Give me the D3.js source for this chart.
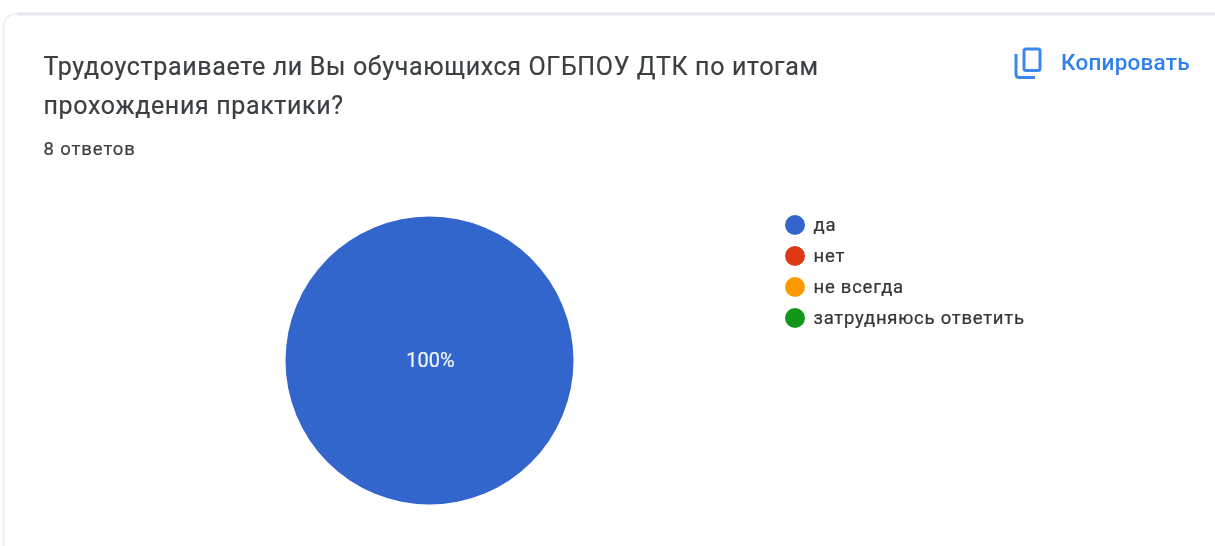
<!DOCTYPE html>
<html><head><meta charset="utf-8">
<script src="https://cdn.jsdelivr.net/npm/d3@7"></script>
<style>html,body{margin:0;padding:0;background:#fff;overflow:hidden}svg{display:block;filter:blur(0.45px)}</style>
</head><body><svg id="c" width="1215" height="546"></svg>
<script>
const titleLines = ["Трудоустраиваете ли Вы обучающихся ОГБПОУ ДТК по итогам","прохождения практики?"];
const subtitle = "8 ответов";
const copyLabel = "Копировать";
const categories = ["да","нет","не всегда","затрудняюсь ответить"];
const values = [8,0,0,0];
const colors = ["#3366cc","#dc3912","#ff9900","#109618"];
const total = d3.sum(values);

const svg = d3.select("#c");
const font = "Roboto, sans-serif";

// card
svg.append("path")
  .attr("d","M3.5,546 V28 Q3.5,14 18,14 H1215")
  .attr("fill","#fff").attr("stroke","#f0eff5").attr("stroke-width",2);
svg.append("path")
  .attr("d","M18,14 H1215")
  .attr("fill","none").attr("stroke","#e6e4ee").attr("stroke-width",3);

// title
svg.selectAll("text.t").data(titleLines).join("text").attr("class","t")
  .attr("x",43.5).attr("y",(d,i)=>74.5+i*39)
  .attr("font-family",font).attr("font-size",25).attr("letter-spacing",0.65).attr("fill","#3c4043")
  .attr("stroke","#3c4043").attr("stroke-width",0.2)
  .text(d=>d);
svg.append("text").attr("x",43.5).attr("y",154.5)
  .attr("font-family",font).attr("font-size",18.5).attr("letter-spacing",0.9).attr("fill","#3c4043")
  .attr("stroke","#3c4043").attr("stroke-width",0.2).text(subtitle);

// copy
const ic = svg.append("g").attr("fill","none").attr("stroke","#1a73e8").attr("stroke-width",3).attr("opacity",0.85);
ic.append("rect").attr("x",1024).attr("y",49).attr("width",16).attr("height",21.5).attr("rx",2);
ic.append("path").attr("d","M1016,54 V74 Q1016,77.5 1019,77.5 H1035");
svg.append("text").attr("x",1061).attr("y",69.5)
  .attr("font-family",font).attr("font-size",22.5).attr("font-weight",500).attr("letter-spacing",0.25).attr("fill","#1a73e8").attr("opacity",0.9).text(copyLabel);

// pie
const cx = 429.5, cy = 360.5, r = 144;
const pie = d3.pie().sort(null).value(d=>d)(values);
const arc = d3.arc().innerRadius(0).outerRadius(r);
const g = svg.append("g").attr("transform",`translate(${cx},${cy})`);
g.selectAll("path").data(pie.filter(d=>d.value>0)).join("path")
  .attr("d",arc).attr("fill",d=>colors[d.index]);
g.selectAll("text").data(pie.filter(d=>d.value>0)).join("text")
  .attr("x",1).attr("y",6.5)
  .attr("text-anchor","middle").attr("font-family",font).attr("font-size",20).attr("fill","#fff").attr("fill-opacity",0.92)
  .attr("stroke","#fff").attr("stroke-width",0.2)
  .text(d=>d3.format(".0%")(d.value/total));

// legend
const ly = d3.scalePoint().domain(categories).range([225,318]);
const lg = svg.append("g");
lg.selectAll("circle").data(categories).join("circle")
  .attr("cx",795).attr("cy",d=>ly(d)).attr("r",10).attr("fill",(d,i)=>colors[i]);
lg.selectAll("text").data(categories).join("text")
  .attr("x",813.5).attr("y",d=>ly(d)+6)
  .attr("font-family",font).attr("font-size",18.5).attr("letter-spacing",0.75).attr("fill","#222").attr("fill-opacity",0.9)
  .attr("stroke","#222").attr("stroke-width",0.2)
  .text(d=>d);
</script></body></html>
